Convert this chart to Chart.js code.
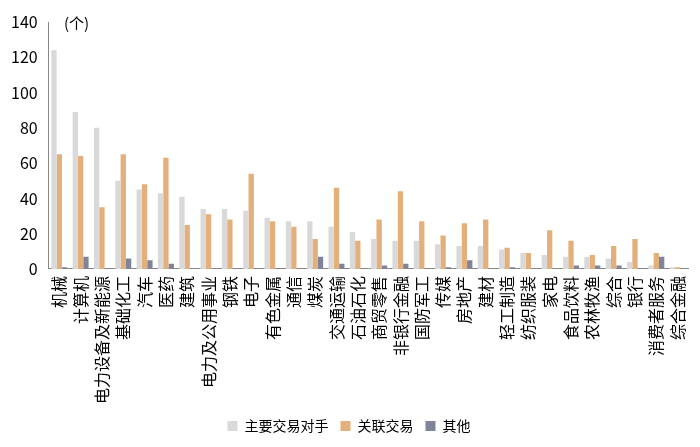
<!DOCTYPE html>
<html><head><meta charset="utf-8">
<script src="https://cdn.jsdelivr.net/npm/chart.js@4"></script>
<style>body{margin:0;background:#fff}#wrap{width:700px;height:447px;position:relative}
#unit{position:absolute;left:64px;top:12px;font:15px "Noto Sans CJK SC";color:#000}</style>
</head><body><div id="wrap"><canvas id="c"></canvas><div id="unit">(个)</div></div>
<script>
const categories = ["机械","计算机","电力设备及新能源","基础化工","汽车","医药","建筑","电力及公用事业","钢铁","电子","有色金属","通信","煤炭","交通运输","石油石化","商贸零售","非银行金融","国防军工","传媒","房地产","建材","轻工制造","纺织服装","家电","食品饮料","农林牧渔","综合","银行","消费者服务","综合金融"];
const mainCounterparty = [124,89,80,50,45,43,41,34,34,33,29,27,27,24,21,17,16,16,14,13,13,11,9,8,7,7,6,4,2,1];
const related = [65,64,35,65,48,63,25,31,28,54,27,24,17,46,16,28,44,27,19,26,28,12,9,22,16,8,13,17,9,1];
const other = [1,7,0.5,6,5,3,0,0,0.5,0.5,0.5,0,7,3,0,2,3,0,1,5,0,1,0,0,2,2,2,0.5,7,0];
const yTicks = [0,20,40,60,80,100,120,140];

const font = {family:"Noto Sans CJK SC", size:16};
new Chart(document.getElementById("c"), {
  type: "bar",
  data: {
    labels: categories,
    datasets: [
      {label:"主要交易对手", data: mainCounterparty, backgroundColor:"#d9d9d9"},
      {label:"关联交易", data: related, backgroundColor:"#e3b07c"},
      {label:"其他", data: other, backgroundColor:"#7f849b"}
    ]
  },
  options: {
    responsive: true, maintainAspectRatio: false, animation: false,
    layout: {padding: {top: 22, right: 10, left: 8, bottom: 4}},
    datasets: {bar: {categoryPercentage: 0.75, barPercentage: 1}},
    plugins: {
      legend: {position: "bottom", labels: {font:{family:"Noto Sans CJK SC", size:14}, color:"#000", boxWidth: 10, boxHeight: 10, padding: 12}}
    },
    scales: {
      x: {grid: {display: false, tickLength: 4}, border: {color:"#888"},
          ticks: {font, color:"#000", autoSkip: false, maxRotation: 90, minRotation: 90}},
      y: {min: 0, max: 140, grid: {display: false}, border: {color:"#888"},
          afterBuildTicks: ax => { ax.ticks = yTicks.map(v => ({value: v})); },
          ticks: {font, color:"#000"}}
    }
  }
});
</script></body></html>
